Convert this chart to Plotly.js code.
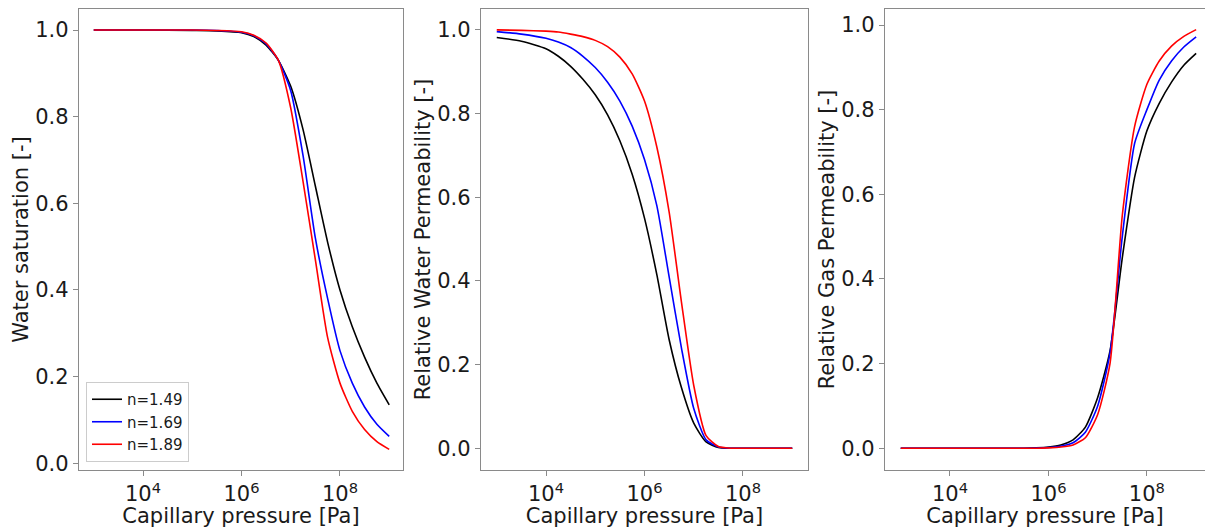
<!DOCTYPE html>
<html>
<head>
<meta charset="utf-8">
<script src="https://cdn.plot.ly/plotly-3.0.1.min.js"></script>
<style>html,body{margin:0;padding:0;background:#fff;}#chart{width:1205px;height:528px;}</style>
</head>
<body>
<div id="chart"></div>
<script>
// ---- data ----
const seriesNames = ['n=1.49', 'n=1.69', 'n=1.89'];
const seriesColors = ['#000000', '#0000ff', '#ff0000'];

// Panel 1: water saturation
const pressureSw = [1e3, 1e4, 1e5, 3.16e5, 1e6, 1.78e6, 3.16e6, 5.62e6, 1e7, 1.78e7, 3.16e7, 5.62e7, 1e8, 1.78e8, 3.16e8, 5.62e8, 1e9];
const sw_n149 = [1.0, 1.0, 0.999, 0.998, 0.994, 0.985, 0.965, 0.93, 0.87, 0.77, 0.64, 0.51, 0.40, 0.315, 0.245, 0.185, 0.135];
const sw_n169 = [1.0, 1.0, 1.0, 0.999, 0.995, 0.987, 0.968, 0.93, 0.86, 0.71, 0.52, 0.38, 0.26, 0.185, 0.13, 0.09, 0.062];
const sw_n189 = [1.0, 1.0, 1.0, 0.999, 0.996, 0.988, 0.97, 0.93, 0.82, 0.65, 0.47, 0.29, 0.185, 0.12, 0.078, 0.05, 0.032];

// Panel 2: relative water permeability
const pressureKrw = [1e3, 3.16e3, 1e4, 1.78e4, 3.16e4, 5.62e4, 1e5, 1.78e5, 3.16e5, 5.62e5, 1e6, 1.78e6, 3.16e6, 5.62e6, 1e7, 1.78e7, 3.16e7, 5.62e7, 1e8, 3.16e8, 1e9];
const krw_n149 = [0.982, 0.973, 0.955, 0.937, 0.913, 0.882, 0.845, 0.797, 0.735, 0.655, 0.55, 0.415, 0.26, 0.145, 0.06, 0.015, 0.002, 0, 0, 0, 0];
const krw_n169 = [0.996, 0.99, 0.98, 0.971, 0.958, 0.937, 0.91, 0.875, 0.83, 0.77, 0.69, 0.58, 0.41, 0.24, 0.095, 0.02, 0.003, 0, 0, 0, 0];
const krw_n189 = [1.0, 0.999, 0.997, 0.995, 0.99, 0.984, 0.975, 0.96, 0.935, 0.895, 0.83, 0.72, 0.565, 0.35, 0.15, 0.03, 0.004, 0, 0, 0, 0];

// Panel 3: relative gas permeability
const pressureKrg = [1e3, 1e4, 1e5, 3.16e5, 5.62e5, 1e6, 1.78e6, 3.16e6, 5.62e6, 1e7, 1.78e7, 3.16e7, 5.62e7, 1e8, 1.78e8, 3.16e8, 5.62e8, 1e9];
const krg_n149 = [0, 0, 0, 0, 0.001, 0.003, 0.008, 0.02, 0.05, 0.12, 0.23, 0.45, 0.64, 0.75, 0.815, 0.865, 0.905, 0.933];
const krg_n169 = [0, 0, 0, 0, 0.0005, 0.002, 0.005, 0.013, 0.038, 0.10, 0.225, 0.50, 0.72, 0.80, 0.87, 0.915, 0.948, 0.972];
const krg_n189 = [0, 0, 0, 0, 0, 0.001, 0.003, 0.008, 0.025, 0.08, 0.20, 0.55, 0.76, 0.86, 0.915, 0.95, 0.973, 0.989];

const xTickVals = [1e4, 1e6, 1e8];
const xTickText = ['10<sup>4</sup>', '10<sup>6</sup>', '10<sup>8</sup>'];
const yTickVals = [0, 0.2, 0.4, 0.6, 0.8, 1.0];
const xTitle = 'Capillary pressure [Pa]';
const yTitles = ['Water saturation [-]', 'Relative Water Permeability [-]', 'Relative Gas Permeability [-]'];

// ---- traces ----
const panels = [
  {x: pressureSw, ys: [sw_n149, sw_n169, sw_n189], xa: 'x', ya: 'y'},
  {x: pressureKrw, ys: [krw_n149, krw_n169, krw_n189], xa: 'x2', ya: 'y2'},
  {x: pressureKrg, ys: [krg_n149, krg_n169, krg_n189], xa: 'x3', ya: 'y3'}
];
const traces = [];
panels.forEach((p, pi) => {
  p.ys.forEach((y, si) => {
    traces.push({
      type: 'scatter', mode: 'lines',
      x: p.x, y: y, xaxis: p.xa, yaxis: p.ya,
      name: seriesNames[si],
      showlegend: pi === 0,
      line: {color: seriesColors[si], width: 1.6, shape: 'spline', smoothing: 0.6},
      hoverinfo: 'x+y+name'
    });
  });
});

const FONT = 'DejaVu Sans, sans-serif';
const frame = '#8a8a8a';
function xAxis(domain, range, anchor) {
  return {
    type: 'log', domain: domain, range: range, anchor: anchor,
    tickvals: xTickVals, ticktext: xTickText,
    ticks: 'outside', ticklen: 5, tickwidth: 1, tickcolor: frame,
    showline: true, linecolor: frame, linewidth: 1.3, mirror: true,
    showgrid: false, zeroline: false, automargin: false,
    tickfont: {family: FONT, size: 21, color: '#1a1a1a'},
    title: {text: xTitle, font: {family: FONT, size: 21, color: '#1a1a1a'}, standoff: 2}
  };
}
function yAxis(domain, range, title, mirror, anchor) {
  return {
    domain: domain, range: range, anchor: anchor,
    tickvals: yTickVals, tickformat: '.1f',
    ticks: 'outside', ticklen: 5, tickwidth: 1, tickcolor: frame,
    showline: true, linecolor: frame, linewidth: 1.3, mirror: mirror,
    showgrid: false, zeroline: false, automargin: false,
    tickfont: {family: FONT, size: 21, color: '#1a1a1a'},
    title: {text: title, font: {family: FONT, size: 21, color: '#1a1a1a'}, standoff: 0}
  };
}
const yDom = [1 - 470/528, 1 - 9/528];
const layout = {
  width: 1205, height: 528,
  margin: {l: 0, r: 0, t: 0, b: 0},
  paper_bgcolor: '#ffffff', plot_bgcolor: '#ffffff',
  font: {family: FONT, color: '#1a1a1a'},
  xaxis: xAxis([79/1205, 403/1205], [2.70, 9.28], 'y'),
  xaxis2: xAxis([481/1205, 808/1205], [2.68, 9.32], 'y2'),
  xaxis3: xAxis([885/1205, 1.0], [2.68, 9.18], 'y3'),
  yaxis: yAxis(yDom, [-0.0155, 1.0485], yTitles[0], true, 'x'),
  yaxis2: yAxis(yDom, [-0.052, 1.05], yTitles[1], true, 'x2'),
  yaxis3: yAxis(yDom, [-0.0513, 1.0378], yTitles[2], false, 'x3'),
  legend: {
    x: 86/1205, y: 1 - 462/528, xanchor: 'left', yanchor: 'bottom',
    bgcolor: '#ffffff', bordercolor: '#cccccc', borderwidth: 1,
    font: {family: FONT, size: 15, color: '#1a1a1a'}
  },
  showlegend: true
};
Plotly.newPlot('chart', traces, layout, {displayModeBar: false});
</script>
</body>
</html>
